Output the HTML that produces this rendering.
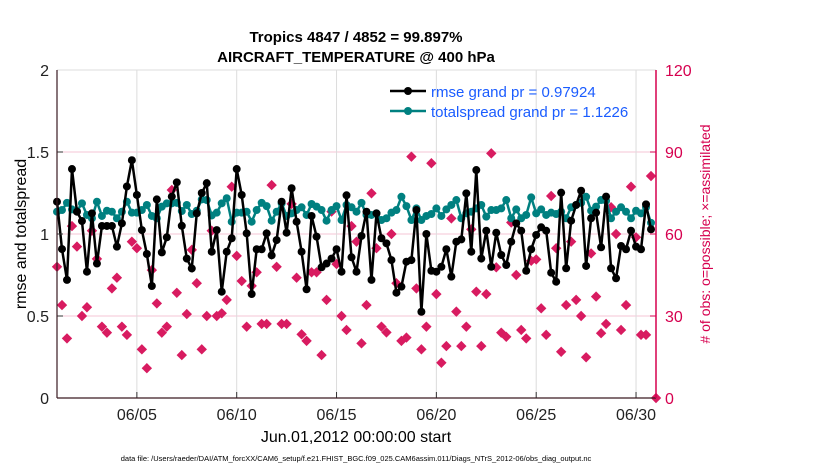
<!DOCTYPE html>
<html><head><meta charset="utf-8"><style>
body{margin:0;background:#fff;}
svg text{font-family:"Liberation Sans",Arial,sans-serif;}
</style></head><body>
<svg id="chart" width="830" height="470" viewBox="0 0 830 470" xmlns="http://www.w3.org/2000/svg">
<g id="grid"></g>
<g id="series"></g>
<g id="axes"></g>
<text x="356" y="42" text-anchor="middle" font-size="15" font-weight="bold">Tropics 4847 / 4852 = 99.897%</text>
<text x="356" y="62" text-anchor="middle" font-size="15" font-weight="bold">AIRCRAFT_TEMPERATURE @ 400 hPa</text>
<text transform="translate(26,234) rotate(-90)" text-anchor="middle" font-size="16">rmse and totalspread</text>
<text transform="translate(710,234) rotate(-90)" text-anchor="middle" font-size="14" fill="#d6004f"># of obs: o=possible; ×=assimilated</text>
<text x="356" y="442" text-anchor="middle" font-size="16">Jun.01,2012 00:00:00 start</text>
<text x="356" y="461" text-anchor="middle" font-size="7.5">data file: /Users/raeder/DAI/ATM_forcXX/CAM6_setup/f.e21.FHIST_BGC.f09_025.CAM6assim.011/Diags_NTrS_2012-06/obs_diag_output.nc</text>
<g>
<line x1="390" y1="91" x2="426" y2="91" stroke="#000" stroke-width="2.5"/>
<circle cx="408" cy="91" r="4" fill="#000"/>
<text x="431" y="97" font-size="15" fill="#1a5cff">rmse grand pr = 0.97924</text>
<line x1="390" y1="111" x2="426" y2="111" stroke="#008080" stroke-width="2.5"/>
<circle cx="408" cy="111" r="4" fill="#008080"/>
<text x="431" y="117" font-size="15" fill="#1a5cff">totalspread grand pr = 1.1226</text>
</g>
</svg>
<script>
const rmse=[1.197,0.908,0.72,1.396,1.136,1.079,0.77,1.126,0.82,1.049,1.049,1.049,0.923,1.065,1.29,1.45,1.238,1.024,0.878,0.683,1.211,0.888,0.98,1.228,1.315,1.05,0.85,0.79,1.126,1.25,1.31,
0.892,1.024,0.648,0.892,0.974,1.396,1.238,1.004,0.634,0.907,0.907,1.004,0.87,0.963,1.197,1.008,1.279,1.075,0.892,0.663,1.11,0.984,0.797,0.82,0.85,0.907,0.77,1.236,0.858,0.77,
0.988,1.136,0.72,1.126,0.974,0.943,0.841,0.642,0.679,0.831,0.841,1.146,0.526,1.0,0.776,0.77,0.8,0.907,0.74,0.953,0.967,1.248,0.892,1.39,0.85,1.02,0.8,1.008,0.872,0.811,
0.953,1.065,1.02,0.776,0.907,0.994,1.041,1.02,0.764,0.709,1.252,0.791,1.081,1.177,1.264,0.805,1.096,1.13,0.919,1.228,0.791,0.73,0.927,0.907,1.02,0.923,0.907,1.181,1.029];
const spread=[1.136,1.146,1.19,1.15,1.14,1.187,1.116,1.096,1.197,1.11,1.142,1.136,1.096,1.136,1.197,1.13,1.13,1.146,1.177,1.11,1.096,1.167,1.187,1.187,1.19,1.14,1.177,1.122,1.142,1.211,1.207,
1.113,1.13,1.187,1.218,1.075,1.13,1.13,1.136,1.075,1.146,1.19,1.17,1.081,1.136,1.187,1.11,1.126,1.146,1.163,1.116,1.183,1.167,1.146,1.081,1.146,1.17,1.085,1.177,1.163,1.136,
1.19,1.116,1.116,1.126,1.085,1.096,1.13,1.146,1.227,1.17,1.085,1.156,1.085,1.11,1.122,1.156,1.11,1.15,1.177,1.207,1.096,1.126,1.136,1.156,1.177,1.106,1.146,1.146,1.156,1.207,
1.096,1.15,1.096,1.116,1.223,1.126,1.15,1.116,1.13,1.122,1.136,1.096,1.163,1.177,1.19,1.227,1.142,1.167,1.207,1.203,1.096,1.136,1.163,1.136,1.096,1.142,1.126,1.163,1.068];
const nobs=[48,34,21.8,62.9,55.4,30,33.2,61.2,50.9,26.1,23.9,40.1,44,26.1,23.1,57.2,54.8,17.8,10.9,46.8,34.6,23.9,26.1,76.1,38.5,15.7,30.7,54.2,42,17.8,30,
61.2,30,31,35.9,77.3,52,42.8,26.1,41,46,27.1,27.1,77.9,48,27.1,27.1,71,44,23.3,20.9,46,46,15.7,35.9,68.2,49,30,24.9,62.9,57.2,
20,34,74.9,54.8,26.1,24,60,42,20.9,22.1,88.3,40.1,17.8,26.1,85.9,38,12.9,19,65.7,31.6,19,26.1,61.7,38.9,19,38,89.5,47.8,23.9,22.4,
64.2,45,24.9,21.8,50.2,50.7,32.8,23.1,73.9,54.8,16.9,34,57.2,35.9,30,14.9,52.9,37.1,23.7,27.1,69.8,60,24.9,34,77.3,58.8,23.1,23.1,81.2];
const xTickDays=[4,9,14,19,24,29];
const xTickLabels=["06/05","06/10","06/15","06/20","06/25","06/30"];
const yTicks=[0,0.5,1,1.5,2];
const yTickLabels=["0","0.5","1","1.5","2"];
const y2Ticks=[0,30,60,90,120];
const y2TickLabels=["0","30","60","90","120"];
const stepDays=0.25;

const PL=57,PR=656,PT=70,PB=398;
const xs=d=>PL+(d/30)*(PR-PL);
const ys=v=>PB-(v/2)*(PB-PT);
const y2s=v=>PB-(v/120)*(PB-PT);
const NS="http://www.w3.org/2000/svg";
function mk(tag,attrs,parent){const e=document.createElementNS(NS,tag);for(const k in attrs)e.setAttribute(k,attrs[k]);parent.appendChild(e);return e;}
const gridG=document.getElementById('grid'),seriesG=document.getElementById('series'),axesG=document.getElementById('axes');

yTicks.forEach((v,i)=>{
  const g=mk('line',{x1:PL,x2:PR,y1:ys(v),y2:ys(v),stroke:'#f4c6d6','stroke-width':1},gridG);
  
  
  const t=mk('line',{x1:PL,x2:PL+6,y1:ys(v),y2:ys(v),stroke:'#333'},axesG);
  
  
  const tx=mk('text',{x:PL-8,y:ys(v)+6,'text-anchor':'end','font-size':16,fill:'#222'},axesG);
  tx.textContent=yTickLabels[i];
  
  
});
y2Ticks.forEach((v,i)=>{
  const t=mk('line',{x1:PR-6,x2:PR,y1:y2s(v),y2:y2s(v),stroke:'#d6004f'},axesG);
  
  
  const tx=mk('text',{x:PR+9,y:y2s(v)+6,'font-size':16,fill:'#d6004f'},axesG);
  tx.textContent=y2TickLabels[i];
  
  
});
xTickDays.forEach((d,i)=>{
  const g=mk('line',{x1:xs(d),x2:xs(d),y1:PT,y2:PB,stroke:'#dcdcdc'},gridG);
  
  
  const t=mk('line',{x1:xs(d),x2:xs(d),y1:PB-6,y2:PB,stroke:'#333'},axesG);
  
  
  const tx=mk('text',{x:xs(d),y:PB+22,'text-anchor':'middle','font-size':16,fill:'#222'},axesG);
  tx.textContent=xTickLabels[i];
  
  
});
const topBorder=mk('line',{x1:PL,x2:PR,y1:PT,y2:PT,stroke:'#ddd'},axesG);


const la=mk('line',{x1:PL,x2:PL,y1:PT,y2:PB,stroke:'#3a1a22','stroke-width':1.2},axesG);


const ba=mk('line',{x1:PL,x2:PR,y1:PB,y2:PB,stroke:'#3a1a22','stroke-width':1.2},axesG);


const ra=mk('line',{x1:PR,x2:PR,y1:PT,y2:PB,stroke:'#d6004f','stroke-width':1.5},axesG);



function diamond(cx,cy,s){return `${cx},${cy-s} ${cx+s},${cy} ${cx},${cy+s} ${cx-s},${cy}`;}
nobs.forEach((v,i)=>{
  const p=mk('polygon',{points:diamond(xs(i*stepDays),y2s(v),5.2),fill:'#d81b60'},seriesG);
  
  
});
const z=mk('polygon',{points:diamond(PR,PB,5.2),fill:'#d81b60'},seriesG);



const sp=mk('polyline',{points:spread.map((v,i)=>xs(i*stepDays)+','+ys(v)).join(' '),fill:'none',stroke:'#008080','stroke-width':2.5},seriesG);


spread.forEach((v,i)=>{
  const c=mk('circle',{cx:xs(i*stepDays),cy:ys(v),r:4,fill:'#008080'},seriesG);
  
  
});
const rl=mk('polyline',{points:rmse.map((v,i)=>xs(i*stepDays)+','+ys(v)).join(' '),fill:'none',stroke:'#000','stroke-width':2.5},seriesG);


rmse.forEach((v,i)=>{
  const c=mk('circle',{cx:xs(i*stepDays),cy:ys(v),r:4,fill:'#000'},seriesG);
  
  
});
</script>
</body></html>
